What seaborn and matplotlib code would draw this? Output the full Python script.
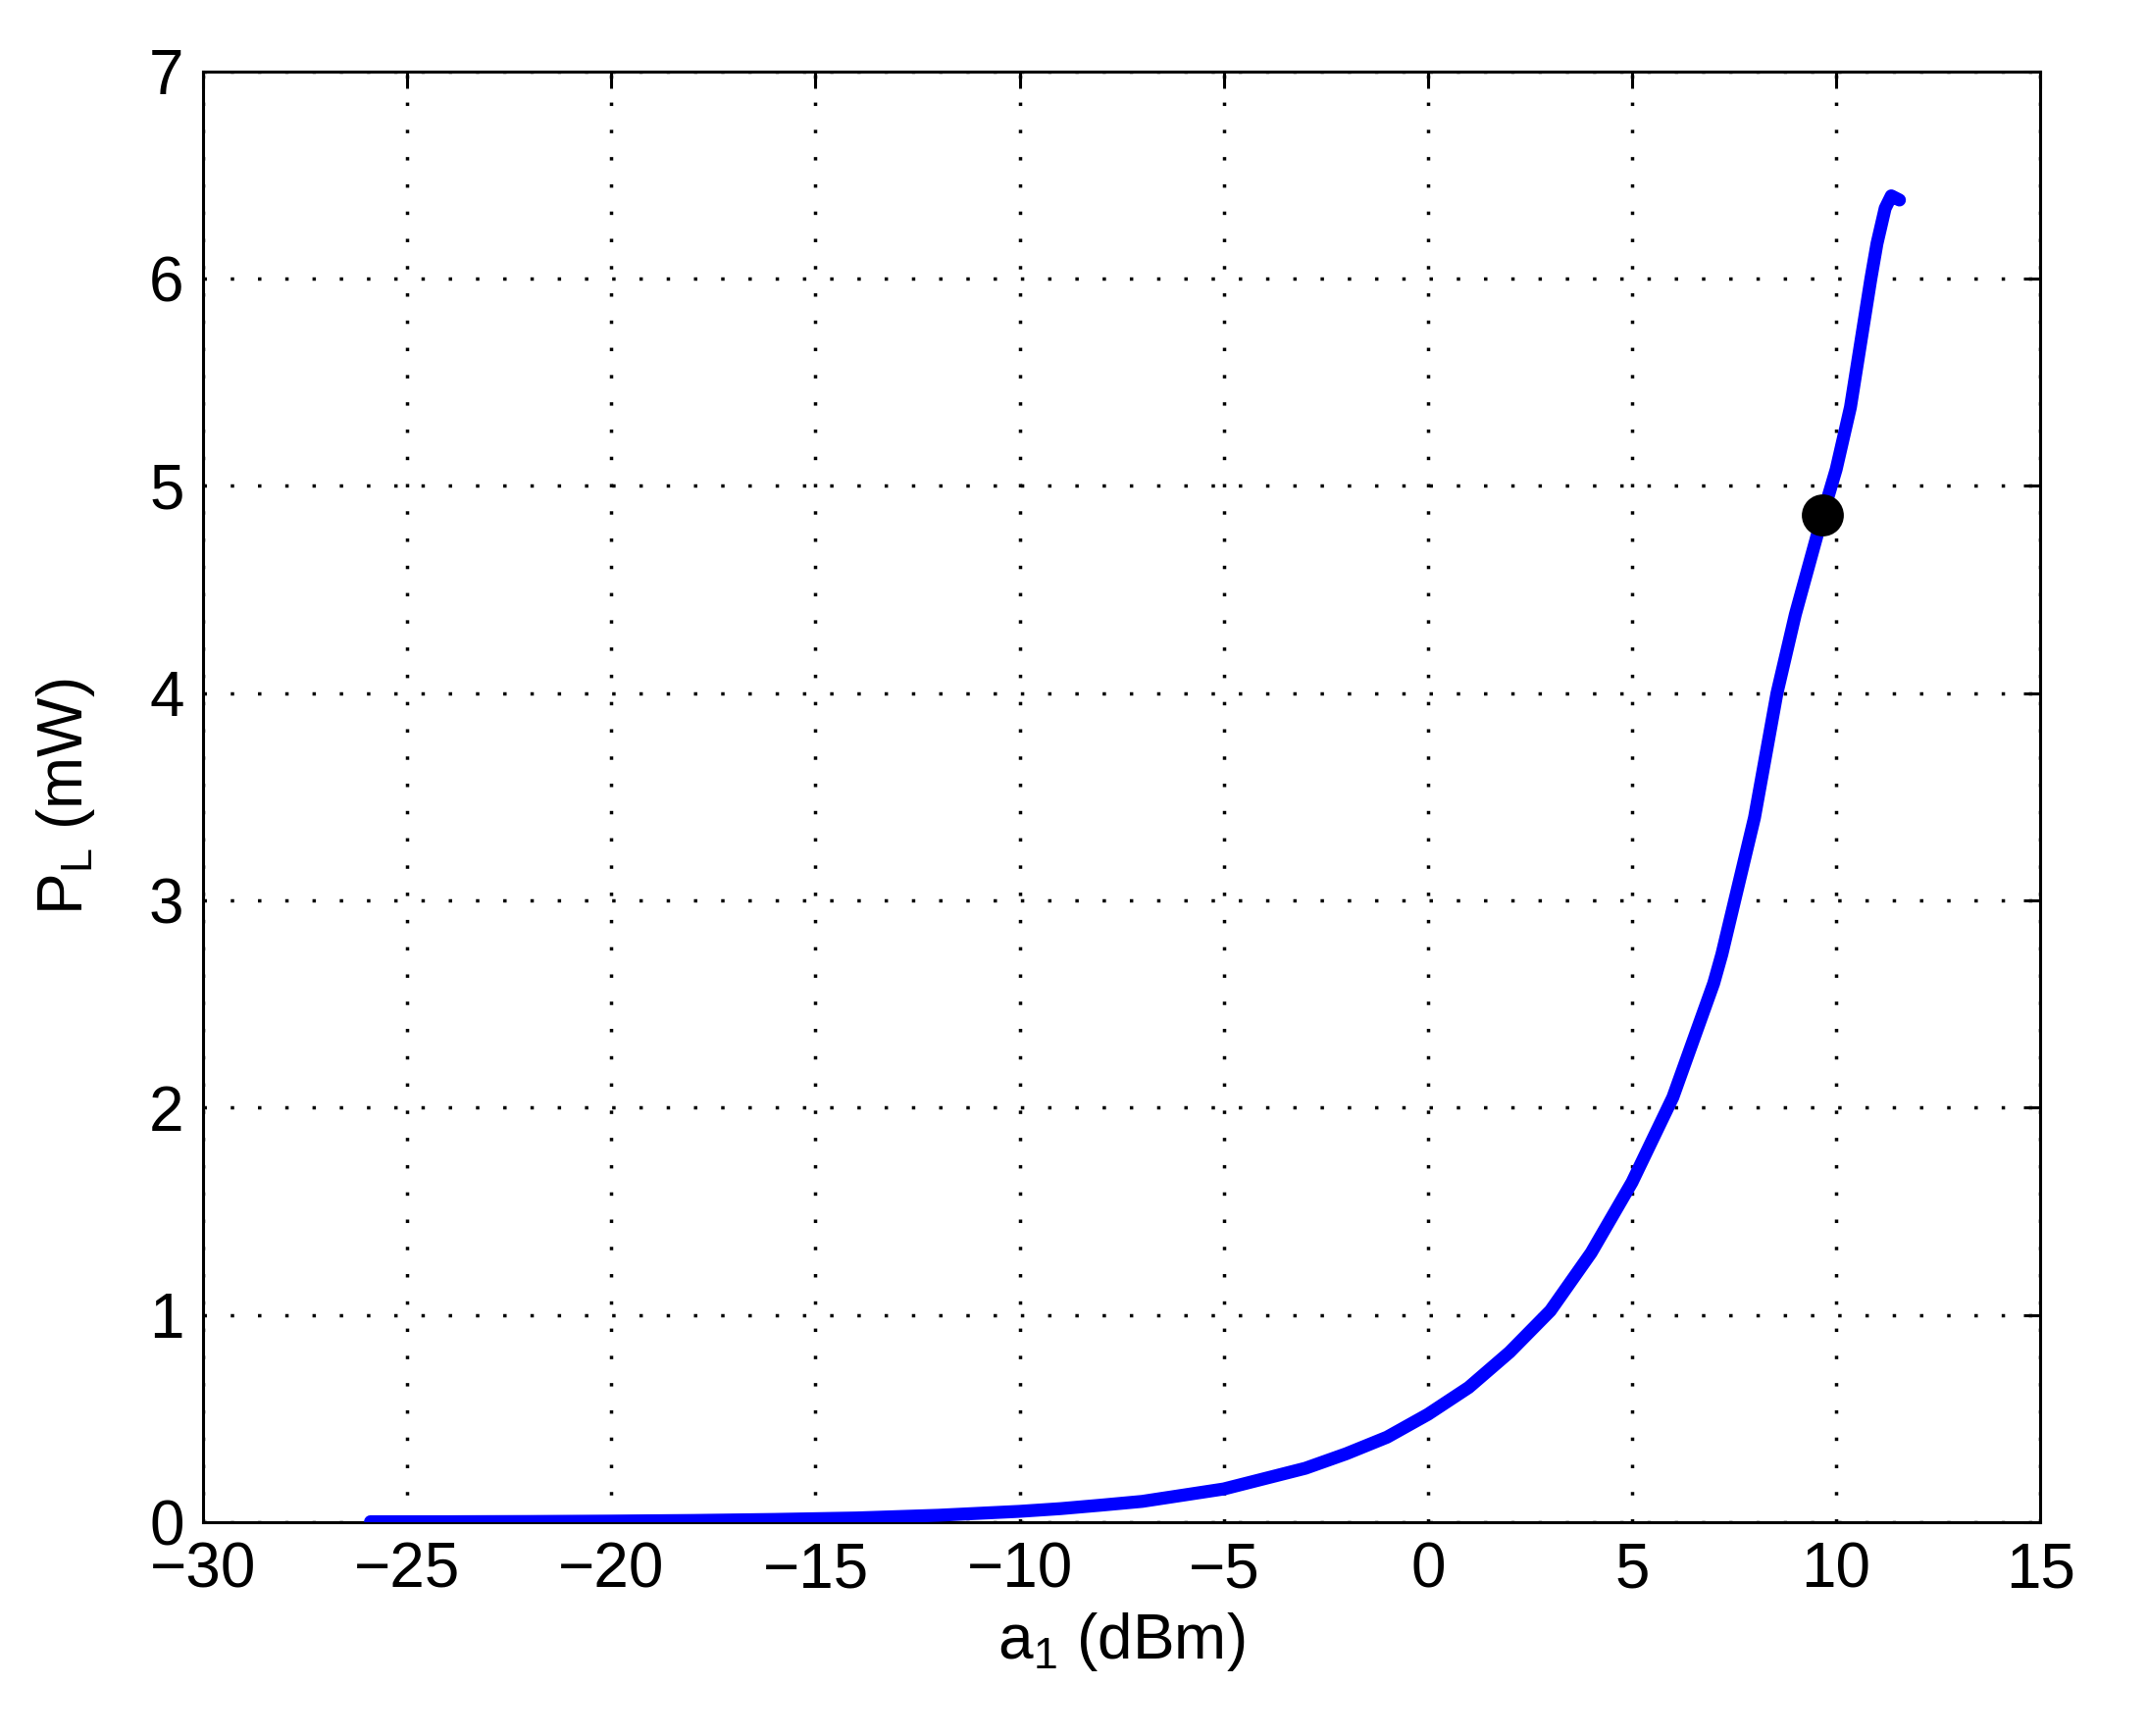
import matplotlib
matplotlib.use('Agg')
import numpy as np
import pandas as pd
import seaborn as sns
import matplotlib.pyplot as plt

# Data
a1_dbm = [-25.9, -24, -22, -20, -18, -16, -14, -12, -10, -9, -8, -7, -6, -5, -4, -3,
          -2, -1, 0, 1, 2, 3, 4, 5, 6, 7, 7.2, 8, 8.55, 9.0, 9.67, 10.0, 10.35, 10.6,
          10.85, 11.0, 11.2, 11.35, 11.55]
pl_mw = [0.002, 0.002, 0.003, 0.005, 0.008, 0.013, 0.02, 0.033, 0.052, 0.065, 0.082,
         0.10, 0.13, 0.16, 0.21, 0.26, 0.33, 0.41, 0.52, 0.65, 0.82, 1.02, 1.30, 1.64,
         2.05, 2.60, 2.74, 3.40, 4.00, 4.38, 4.86, 5.08, 5.38, 5.69, 6.00, 6.17, 6.34,
         6.40, 6.38]
op_a1 = [9.67]
op_pl = [4.86]
x_ticks = [-30, -25, -20, -15, -10, -5, 0, 5, 10, 15]
y_ticks = [0, 1, 2, 3, 4, 5, 6, 7]

sns.set_theme(style='white')
plt.rcParams['font.family'] = ['Liberation Sans', 'DejaVu Sans']
plt.rcParams['mathtext.fontset'] = 'custom'
plt.rcParams['mathtext.rm'] = 'Liberation Sans'
plt.rcParams['mathtext.it'] = 'Liberation Sans'
plt.rcParams['axes.unicode_minus'] = True
plt.rcParams['text.color'] = 'black'
plt.rcParams['axes.labelcolor'] = 'black'

fig = plt.figure(figsize=(21.89, 17.70), dpi=100)
ax = fig.add_axes([0.0946, 0.1232, 0.8557, 0.8356])

df = pd.DataFrame({'a1': a1_dbm, 'pl': pl_mw})
sns.lineplot(data=df, x='a1', y='pl', ax=ax, color='#0000ff', linewidth=9.5,
             sort=False, estimator=None, zorder=3)
sns.scatterplot(x=op_a1, y=op_pl, ax=ax, color='black', s=950, edgecolor='black',
                linewidth=0, zorder=5)

ax.set_xlim(-30, 15)
ax.set_ylim(0, 7)
ax.set_xticks(x_ticks)
ax.set_yticks(y_ticks)
ax.set_xticklabels([('\u2212' + str(-t)) if t < 0 else str(t) for t in x_ticks])

ax.grid(True, color='black', linestyle=(0, (1, 7)), linewidth=2.5)
ax.set_axisbelow(True)
for s in ax.spines.values():
    s.set_visible(True)
    s.set_color('black')
    s.set_linewidth(2.2)

ax.tick_params(axis='both', which='major', direction='in', length=12, width=2.2,
               labelsize=46, colors='black', top=True, right=True, pad=14)

ax.set_xlabel(r'$\mathrm{a_1}$ (dBm)', fontsize=46, labelpad=8, color='black')
ax.set_ylabel(r'$\mathrm{P_L}$ (mW)', fontsize=46, labelpad=38, color='black')

fig.savefig('out.png', dpi=100, facecolor='white')
